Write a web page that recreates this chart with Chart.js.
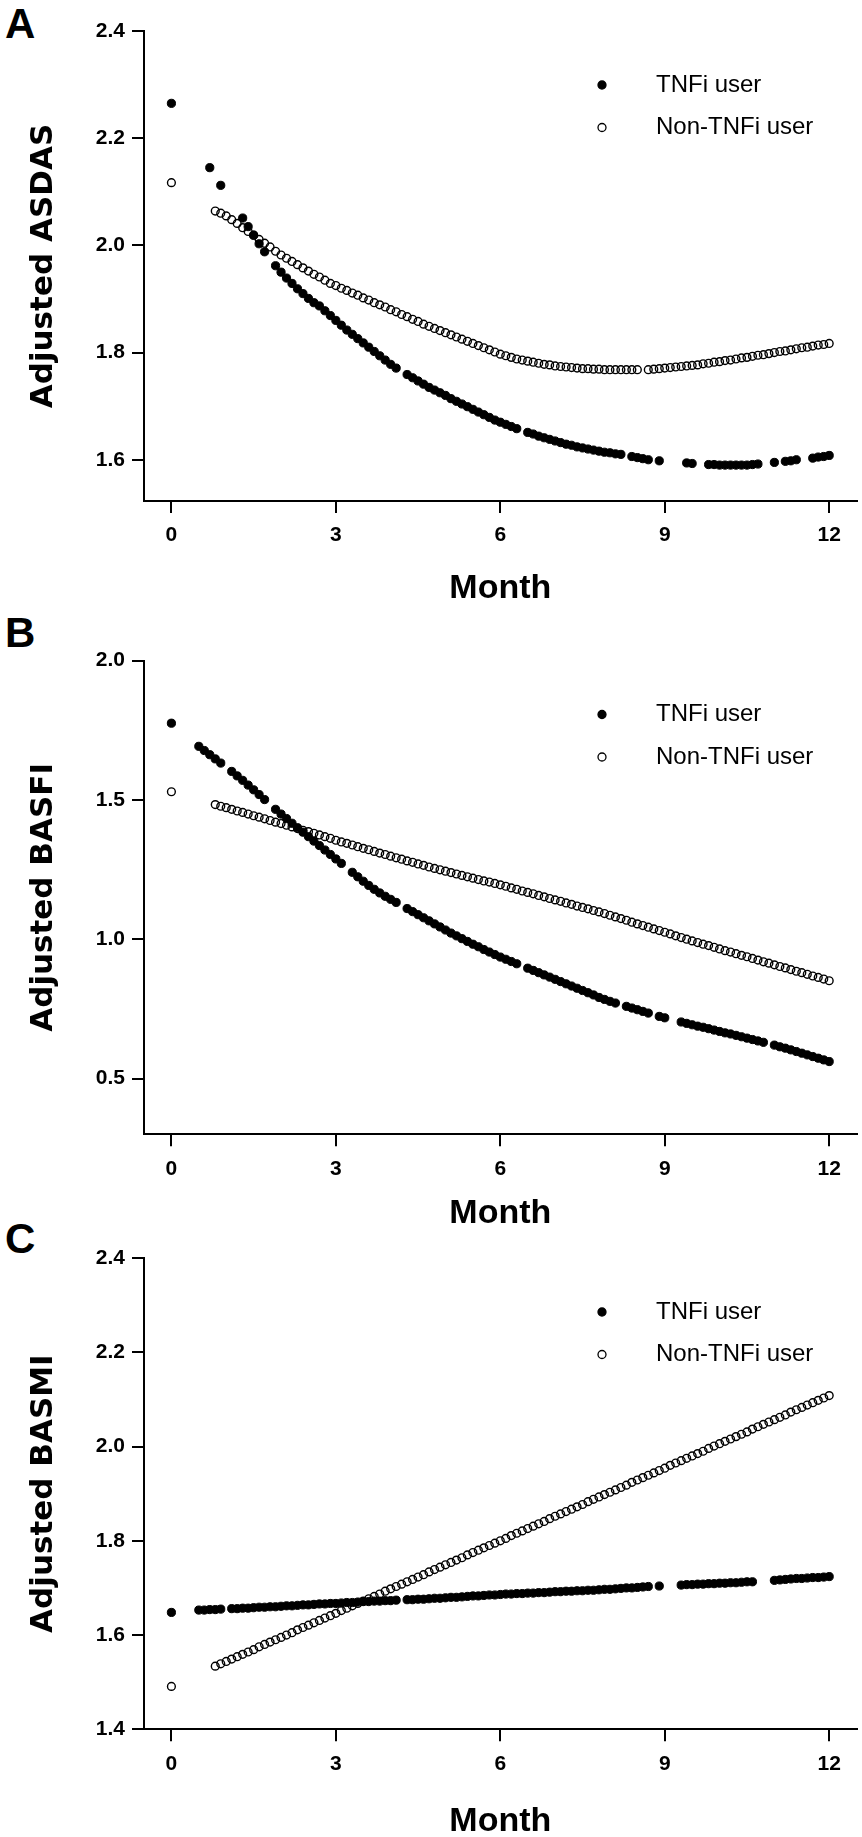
<!DOCTYPE html>
<html>
<head>
<meta charset="utf-8">
<script src="https://cdn.jsdelivr.net/npm/chart.js@4.4.1/dist/chart.umd.min.js"></script>
<style>
  body { margin: 0; background: #fff; width: 862px; height: 1837px; position: relative; overflow: hidden; }
  canvas { position: absolute; left: 0; }
  .tag { position: absolute; left: 5px; font: bold 42px "Liberation Sans", Arial, sans-serif; line-height: 1; color: #000; }
</style>
</head>
<body>
<div class="tag" style="top:3px">A</div>
<div class="tag" style="top:612px">B</div>
<div class="tag" style="top:1218px">C</div>
<canvas id="chartA" width="862" height="625" style="top:0px"></canvas>
<canvas id="chartB" width="862" height="640" style="top:600px"></canvas>
<canvas id="chartC" width="862" height="650" style="top:1210px"></canvas>
<script>
// Visit times (months), shared by all panels
const months = [
  0,
  0.5, 0.6, 0.7, 0.8, 0.9,
  1.0, 1.1, 1.2, 1.3, 1.4, 1.5, 1.6, 1.7, 1.8, 1.9,
  2.0, 2.1, 2.2, 2.3, 2.4, 2.5, 2.6, 2.7, 2.8, 2.9,
  3.0, 3.1, 3.2, 3.3, 3.4, 3.5, 3.6, 3.7, 3.8, 3.9,
  4.0, 4.1, 4.2, 4.3, 4.4, 4.5, 4.6, 4.7, 4.8, 4.9,
  5.0, 5.1, 5.2, 5.3, 5.4, 5.5, 5.6, 5.7, 5.8, 5.9,
  6.0, 6.1, 6.2, 6.3, 6.4, 6.5, 6.6, 6.7, 6.8, 6.9,
  7.0, 7.1, 7.2, 7.3, 7.4, 7.5, 7.6, 7.7, 7.8, 7.9,
  8.0, 8.1, 8.2, 8.3, 8.4, 8.5, 8.6, 8.7, 8.8, 8.9,
  9.0, 9.1, 9.2, 9.3, 9.4, 9.5, 9.6, 9.7, 9.8, 9.9,
  10.0, 10.1, 10.2, 10.3, 10.4, 10.5, 10.6, 10.7, 10.8, 10.9,
  11.0, 11.1, 11.2, 11.3, 11.4, 11.5, 11.6, 11.7, 11.8, 11.9,
  12.0
];
const monthTicks = [0, 3, 6, 9, 12];

// A - ASDAS
const asdasTnfi = [
  2.265,
  null, null, 2.145, null, 2.112,
  null, null, null, 2.051, 2.035, 2.019, 2.003, 1.988, null, 1.962,
  1.950, 1.939, 1.929, 1.919, 1.910, 1.901, 1.893, 1.887, 1.878, 1.869,
  1.860, 1.851, 1.842, 1.834, 1.826, 1.818, 1.810, 1.802, 1.794, 1.786,
  1.778, 1.771, null, 1.759, 1.753, 1.747, 1.741, 1.735, 1.730, 1.725,
  1.720, 1.714, 1.709, 1.704, 1.699, 1.694, 1.689, 1.684, 1.679, 1.674,
  1.670, 1.666, 1.662, 1.658, null, 1.651, 1.648, 1.644, 1.641, 1.638,
  1.635, 1.632, 1.629, 1.627, 1.624, 1.622, 1.620, 1.618, 1.616, 1.614,
  1.613, 1.611, 1.610, null, 1.606, 1.604, 1.602, 1.600, null, 1.598,
  null, null, null, null, 1.594, 1.593, null, null, 1.591, 1.591,
  1.590, 1.590, 1.590, 1.590, 1.590, 1.590, 1.591, 1.592, null, null,
  1.595, null, 1.597, 1.598, 1.600, null, null, 1.603, 1.605, 1.606,
  1.608
];
const asdasNonTnfi = [
  2.117,
  null, null, null, 2.064, 2.060,
  2.055, 2.048, 2.041, 2.033, 2.026, 2.019, 2.011, 2.004, 1.997, 1.989,
  1.982, 1.976, 1.970, 1.964, 1.958, 1.952, 1.946, 1.941, 1.935, 1.929,
  1.925, 1.920, 1.916, 1.911, 1.907, 1.902, 1.898, 1.893, 1.889, 1.885,
  1.880, 1.876, 1.871, 1.867, 1.862, 1.858, 1.853, 1.849, 1.845, 1.841,
  1.837, 1.833, 1.829, 1.825, 1.821, 1.817, 1.813, 1.809, 1.805, 1.801,
  1.797, 1.794, 1.791, 1.788, 1.786, 1.784, 1.782, 1.780, 1.778, 1.777,
  1.775, 1.774, 1.773, 1.772, 1.771, 1.770, 1.770, 1.769, 1.769, 1.768,
  1.768, 1.768, 1.768, 1.768, 1.768, 1.768, null, 1.768, 1.769, 1.770,
  1.771, 1.772, 1.773, 1.774, 1.775, 1.776, 1.777, 1.779, 1.780, 1.782,
  1.783, 1.785, 1.786, 1.788, 1.790, 1.791, 1.793, 1.795, 1.796, 1.798,
  1.800, 1.802, 1.803, 1.805, 1.807, 1.809, 1.810, 1.812, 1.814, 1.815,
  1.817
];
const asdasTicks = [1.6, 1.8, 2.0, 2.2, 2.4];

// B - BASFI
const basfiTnfi = [
  1.775,
  1.692, 1.677, 1.662, 1.647, 1.632,
  null, 1.602, 1.586, 1.570, 1.553, 1.536, 1.519, 1.501, null, 1.466,
  1.449, 1.433, 1.416, 1.400, 1.384, 1.368, 1.352, 1.336, 1.320, 1.304,
  1.288, 1.272, null, 1.240, 1.224, 1.208, 1.193, 1.179, 1.166, 1.154,
  1.143, 1.132, null, 1.110, 1.099, 1.088, 1.077, 1.066, 1.055, 1.044,
  1.033, 1.022, 1.012, 1.002, 0.992, 0.982, 0.973, 0.963, 0.954, 0.945,
  0.936, 0.928, 0.920, 0.912, null, 0.896, 0.888, 0.880, 0.872, 0.864,
  0.856, 0.848, 0.840, 0.832, 0.824, 0.816, 0.808, 0.800, 0.791, 0.784,
  0.777, 0.771, null, 0.759, 0.753, 0.747, 0.741, 0.735, null, 0.723,
  0.718, null, null, 0.703, 0.698, 0.693, 0.688, 0.684, 0.679, 0.674,
  0.669, 0.664, 0.660, 0.655, 0.650, 0.645, 0.640, 0.635, 0.630, null,
  0.620, 0.614, 0.609, 0.603, 0.597, 0.591, 0.585, 0.579, 0.573, 0.567,
  0.561
];
const basfiNonTnfi = [
  1.529,
  null, null, null, 1.483, 1.477,
  1.472, 1.466, 1.460, 1.455, 1.449, 1.443, 1.438, 1.432, 1.426, 1.420,
  1.415, 1.409, 1.403, 1.397, 1.391, 1.386, 1.380, 1.374, 1.368, 1.362,
  1.355, 1.349, 1.344, 1.338, 1.332, 1.326, 1.321, 1.315, 1.309, 1.304,
  1.298, 1.292, 1.287, 1.281, 1.276, 1.270, 1.265, 1.259, 1.254, 1.249,
  1.244, 1.239, 1.234, 1.229, 1.224, 1.219, 1.214, 1.209, 1.205, 1.200,
  1.195, 1.190, 1.184, 1.179, 1.173, 1.168, 1.163, 1.157, 1.152, 1.146,
  1.141, 1.136, 1.130, 1.125, 1.119, 1.114, 1.109, 1.103, 1.098, 1.092,
  1.086, 1.080, 1.074, 1.068, 1.061, 1.055, 1.049, 1.043, 1.037, 1.031,
  1.025, 1.019, 1.012, 1.006, 1.000, 0.994, 0.988, 0.982, 0.977, 0.971,
  0.965, 0.959, 0.954, 0.948, 0.942, 0.937, 0.931, 0.925, 0.919, 0.914,
  0.908, 0.902, 0.897, 0.891, 0.885, 0.880, 0.874, 0.868, 0.863, 0.857,
  0.851
];
const basfiTicks = [0.5, 1.0, 1.5, 2.0];

// C - BASMI
const basmiTnfi = [
  1.648,
  1.653, 1.653, 1.654, 1.654, 1.655,
  null, 1.656, 1.656, 1.657, 1.657, 1.658, 1.659, 1.659, 1.660, 1.660,
  1.661, 1.662, 1.662, 1.663, 1.664, 1.664, 1.665, 1.666, 1.666, 1.667,
  1.667, 1.668, 1.669, 1.669, 1.670, 1.671, 1.671, 1.672, 1.672, 1.673,
  1.673, 1.674, null, 1.675, 1.675, 1.676, 1.676, 1.677, 1.678, 1.678,
  1.679, 1.680, 1.680, 1.681, 1.682, 1.683, 1.683, 1.684, 1.685, 1.685,
  1.686, 1.687, 1.687, 1.688, 1.688, 1.689, 1.689, 1.690, 1.690, 1.691,
  1.692, 1.692, 1.693, 1.693, 1.694, 1.694, 1.695, 1.695, 1.696, 1.697,
  1.697, 1.698, 1.699, 1.700, 1.700, 1.701, 1.702, 1.703, null, 1.704,
  null, null, null, 1.706, 1.707, 1.707, 1.708, 1.708, 1.709, 1.709,
  1.710, 1.710, 1.711, 1.711, 1.712, 1.713, 1.713, null, null, null,
  1.716, 1.717, 1.718, 1.719, 1.720, 1.720, 1.721, 1.722, 1.722, 1.723,
  1.724
];
const basmiNonTnfi = [
  1.491,
  null, null, null, 1.534, 1.539,
  1.544, 1.549, 1.554, 1.559, 1.564, 1.569, 1.575, 1.580, 1.585, 1.590,
  1.595, 1.600, 1.605, 1.611, 1.616, 1.621, 1.626, 1.631, 1.636, 1.641,
  1.646, 1.652, 1.657, 1.662, 1.667, 1.672, 1.677, 1.682, 1.687, 1.693,
  1.698, 1.703, 1.708, 1.713, 1.718, 1.723, 1.728, 1.734, 1.739, 1.744,
  1.749, 1.754, 1.759, 1.764, 1.770, 1.775, 1.780, 1.785, 1.790, 1.795,
  1.800, 1.805, 1.811, 1.816, 1.821, 1.826, 1.831, 1.836, 1.841, 1.847,
  1.852, 1.857, 1.862, 1.867, 1.872, 1.877, 1.883, 1.888, 1.893, 1.898,
  1.903, 1.908, 1.913, 1.918, 1.924, 1.929, 1.934, 1.939, 1.944, 1.949,
  1.954, 1.960, 1.965, 1.970, 1.975, 1.980, 1.985, 1.990, 1.996, 2.001,
  2.006, 2.011, 2.016, 2.021, 2.026, 2.031, 2.037, 2.042, 2.047, 2.052,
  2.057, 2.062, 2.067, 2.073, 2.078, 2.083, 2.088, 2.093, 2.098, 2.103,
  2.108
];
const basmiTicks = [1.4, 1.6, 1.8, 2.0, 2.2, 2.4];

const seriesLabels = ['TNFi user', 'Non-TNFi user'];

Chart.defaults.font.family = '"Liberation Sans", Arial, sans-serif';
Chart.defaults.color = '#000';

// Pair months with values, skip visits without a value
function toPoints(values) {
  return months.map((m, i) => ({ x: m, y: values[i] })).filter(p => p.y !== null);
}

// Legend drawn inside the plot, top right
const insetLegend = {
  id: 'insetLegend',
  afterDraw(chart, args, opts) {
    const { ctx, chartArea } = chart;
    chart.data.datasets.forEach((ds, i) => {
      const y = chartArea.top + opts.rows[i];
      const x = chartArea.left + opts.markerX;
      ctx.save();
      ctx.beginPath();
      ctx.arc(x, y, 4, 0, Math.PI * 2);
      ctx.fillStyle = i === 0 ? '#000' : '#fff';
      ctx.fill();
      ctx.lineWidth = 1.3;
      ctx.strokeStyle = '#000';
      ctx.stroke();
      ctx.font = '24px "Liberation Sans", Arial, sans-serif';
      ctx.fillStyle = '#000';
      ctx.textBaseline = 'middle';
      ctx.fillText(ds.label, chartArea.left + opts.textX, y);
      ctx.restore();
    });
  }
};

const axisLine = { display: true, color: '#000', width: 2 };
const tickMarks = { display: true, drawOnChartArea: false, drawTicks: true, tickLength: 12, lineWidth: 2, color: '#000' };
const tickFont = { size: 21, weight: 'bold' };

function makePanel(p) {
  const xHeight = p.height - (p.plotBottom - p.canvasTop);
  new Chart(document.getElementById(p.id), {
    type: 'scatter',
    data: {
      datasets: [
        { label: seriesLabels[0], data: toPoints(p.tnfi), pointRadius: 4.1, pointBackgroundColor: '#000', pointBorderColor: '#000', pointBorderWidth: 1 },
        { label: seriesLabels[1], data: toPoints(p.non), pointRadius: 3.9, pointBackgroundColor: 'rgba(0,0,0,0)', pointBorderColor: '#000', pointBorderWidth: 1.4 }
      ]
    },
    options: {
      responsive: false,
      animation: false,
      events: [],
      layout: { padding: { top: p.plotTop - p.canvasTop, right: 2, left: 0, bottom: 0 } },
      plugins: {
        legend: { display: false },
        tooltip: { enabled: false },
        insetLegend: { markerX: 458, textX: 512, rows: [54, 96.5] }
      },
      scales: {
        x: {
          type: 'linear', min: -0.5, max: 12.5,
          afterBuildTicks: s => { s.ticks = monthTicks.map(v => ({ value: v })); },
          afterFit: s => { s.height = xHeight; },
          ticks: { font: tickFont, padding: 10, maxRotation: 0 },
          grid: tickMarks,
          border: axisLine,
          title: { display: true, text: 'Month', font: { size: 34, weight: 'bold' }, padding: { top: 0, bottom: xHeight - p.monthGap - 20.4 } }
        },
        y: {
          type: 'linear', min: p.yMin, max: p.yMax,
          afterBuildTicks: s => { s.ticks = p.yTicks.map(v => ({ value: v })); },
          afterFit: s => { s.width = 144; },
          ticks: { font: tickFont, padding: 7, callback: v => v.toFixed(1) },
          grid: tickMarks,
          border: axisLine,
          title: { display: true, text: p.title, font: { family: '"DejaVu Sans", sans-serif', size: 31, weight: 'bold' }, padding: { top: 25.4, bottom: 0 } }
        }
      }
    },
    plugins: [insetLegend]
  });
}

document.addEventListener('DOMContentLoaded', () => {
  makePanel({ id: 'chartA', title: 'Adjusted ASDAS', tnfi: asdasTnfi, non: asdasNonTnfi, yMin: 1.523, yMax: 2.4, yTicks: asdasTicks,
    canvasTop: 0, height: 625, plotTop: 31, plotBottom: 501, monthGap: 88 });
  makePanel({ id: 'chartB', title: 'Adjusted BASFI', tnfi: basfiTnfi, non: basfiNonTnfi, yMin: 0.3, yMax: 2.0, yTicks: basfiTicks,
    canvasTop: 600, height: 640, plotTop: 660.5, plotBottom: 1134.3, monthGap: 79 });
  makePanel({ id: 'chartC', title: 'Adjusted BASMI', tnfi: basmiTnfi, non: basmiNonTnfi, yMin: 1.4, yMax: 2.4, yTicks: basmiTicks,
    canvasTop: 1210, height: 650, plotTop: 1258, plotBottom: 1729.3, monthGap: 92 });
});
</script>
</body>
</html>
